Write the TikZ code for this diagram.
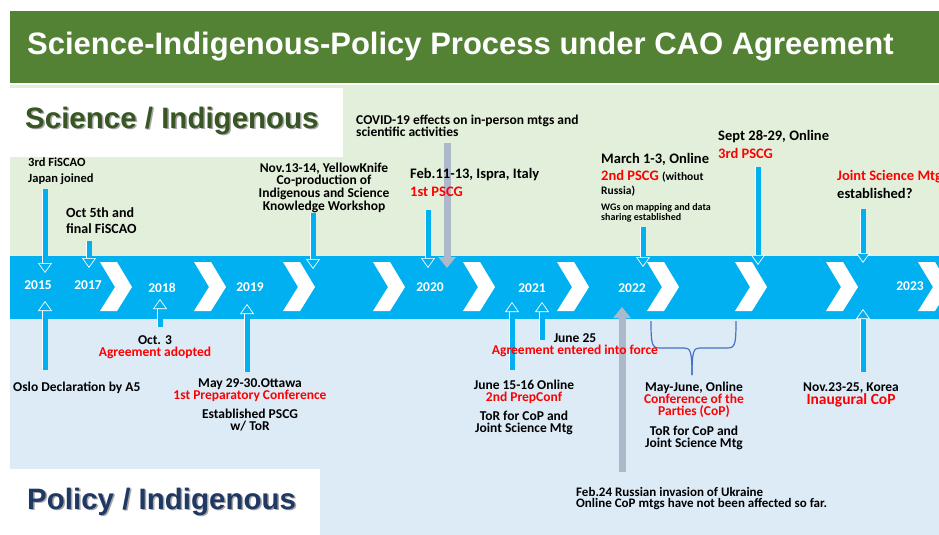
\documentclass[tikz,border=0pt]{standalone}
\usepackage{fontspec}
\setmainfont{Carlito}
\newfontfamily\headfont{Liberation Sans}
\usetikzlibrary{arrows.meta,positioning}
\definecolor{cagreen}{RGB}{84,130,53}
\definecolor{casci}{RGB}{226,239,218}
\definecolor{capol}{RGB}{221,235,247}
\definecolor{caband}{RGB}{0,176,240}
\definecolor{cadkgreen}{RGB}{55,86,35}
\definecolor{cadkblue}{RGB}{31,56,100}
\definecolor{cagrey}{RGB}{173,185,202}
\definecolor{cabrace}{RGB}{68,114,196}
\definecolor{cared}{RGB}{255,0,0}
\newcommand\redtxt[1]{\textcolor{cared}{#1}}

\begin{document}
\begin{tikzpicture}[x=1pt,y=-1pt,
      ev/.style={font=\bfseries\fontsize{13.5}{12}\selectfont,inner sep=0pt,align=center},
      evl/.style={ev,align=left},
      evbig/.style={font=\bfseries\fontsize{14.5}{12}\selectfont},
      yr/.style={font=\bfseries\fontsize{13.5}{14}\selectfont,text=white,inner sep=0pt},
      lane/.style={font=\headfont\bfseries\fontsize{29.5}{30}\selectfont,inner sep=0pt,anchor=base west},
      blk/.style={caband,line width=5pt,preaction={draw=white,line width=6.4pt,-,shorten >=9pt},
        -{Triangle[width=14pt,length=10pt,color=white,fill=caband,line width=0.7pt 0]}},
      gry/.style={cagrey,line width=7pt,-{Triangle[width=17pt,length=11pt]}}]
    \clip (0,0) rectangle (939,535);
    % lanes
    \fill[white] (0,0) rectangle (939,535);
    \fill[cagreen] (10,11) rectangle (939,83);
    \fill[casci] (10,85) rectangle (939,256);
    \fill[caband] (10,256) rectangle (939,319);
    \fill[capol] (10,319) rectangle (939,535);
    \fill[white] (10,88) rectangle (343,157);
    \fill[white] (10,469) rectangle (320,535);
    \node[font=\headfont\bfseries\fontsize{31}{31}\selectfont,text=white,inner sep=0pt,anchor=base west] (title) at (27,55) {Science-Indigenous-Policy Process under CAO Agreement};
    \node[lane,text=black!35] at (26.5,129.5) {Science / Indigenous};
    \node[lane,text=cadkgreen] (scilane) at (25,128) {Science / Indigenous};
    \node[lane,text=black!35] at (28.5,510.5) {Policy / Indigenous};
    \node[lane,text=cadkblue] (pollane) at (27,509) {Policy / Indigenous};
    % timeline band
    \foreach \cx in {100,194,283,373,463,557,647,735,826,918}
      \fill[white] (\cx,262) -- ++(17,0) -- ++(15,25) -- ++(-15,24) -- ++(-17,0) -- ++(15,-24) -- cycle;
    \foreach \yy/\x/\y in {2015/38/285,2017/88/285,2018/162/288,2019/250/287,2020/430/287,2021/532/288,2022/632/288,2023/910/286}
      \node[yr] (y\yy) at (\x,\y) {\yy};
    % CoP brace
    \draw[cabrace,line width=1.2pt] (651,321) .. controls (651,345) and (652,348) .. (660,348) -- (684,348) .. controls (690,348) and (692,350) .. (692,375);
    \draw[cabrace,line width=1.2pt] (736,321) .. controls (736,345) and (735,348) .. (727,348) -- (700,348) .. controls (694,348) and (692,350) .. (692,375);
    % event arrows
    \foreach \n/\x/\ya/\yb in {d1/45/189/273,d2/89/241/268,d3/313/213/269,d4/428/210/268,d5/643/227/267,d6/758/167/265,d7/863/209/263,
        u1/45/370/301,u2/160/327/299,u3/247/372/304,u4/512/370/302,u5/542/340/302,u6/863/372/309}{
      \coordinate (\n s) at (\x,\ya);
      \coordinate (\n e) at (\x,\yb);
      \draw[blk] (\n s) -- (\n e);
    }
    \coordinate (covs) at (447,143); \coordinate (cove) at (447,268);
    \coordinate (ukrs) at (622,472); \coordinate (ukre) at (622,307);
    \draw[gry] (covs) -- (cove); \draw[gry] (ukrs) -- (ukre);
    % science side
    \node[evl,anchor=north west,font=\bfseries\fontsize{12.5}{12}\selectfont] (fiscao3) at (28,158) {3rd FiSCAO\\[4pt]Japan joined};
    \node[evl,anchor=north west,font=\bfseries\fontsize{14}{12}\selectfont] (fiscao5) at (66,207) {Oct 5th and\\[4pt]final FiSCAO};
    \node[ev,anchor=north,font=\bfseries\fontsize{13.5}{11}\selectfont] (yknife) at (324,163) {Nov.13-14, YellowKnife\\Co-production of\\Indigenous and Science\\Knowledge Workshop};
    \node[evl,anchor=north west] (covid) at (356,115) {COVID-19 effects on in-person mtgs and\\scientific activities};
    \node[evl,evbig,anchor=north west] (ispra) at (410,168) {Feb.11-13, Ispra, Italy\\[6pt]\redtxt{1st PSCG}};
    \node[evl,evbig,anchor=north west] (march) at (601,153) {March 1-3, Online\\[4pt]\redtxt{2nd PSCG} {\fontsize{11.5}{12}\selectfont(without}\\[2pt]{\fontsize{11.5}{12}\selectfont Russia)}};
    \node[evl,anchor=north west,font=\bfseries\fontsize{10}{10}\selectfont] (wgs) at (601,203) {WGs on mapping and data\\sharing established};
    \node[evl,evbig,anchor=north west] (sept) at (718,130) {Sept 28-29, Online\\[5pt]\redtxt{3rd PSCG}};
    \node[evl,evbig,anchor=north west] (jsm) at (837,170) {\redtxt{Joint Science Mtg}\\[4pt]established?};
    % policy side
    \node[ev,anchor=north] (oct3) at (155,335) {Oct. 3\\\redtxt{Agreement adopted}};
    \node[evl,anchor=north west] (oslo) at (13,382) {Oslo Declaration by A5};
    \node[ev,anchor=north] (ottawa) at (250,378) {May 29-30.Ottawa\\\redtxt{1st Preparatory Conference}\\[7pt]Established PSCG\\w/ ToR};
    \node[ev,anchor=north] (june25) at (575,333) {June 25\\\redtxt{Agreement entered into force}};
    \node[ev,anchor=north] (prep2) at (524,380) {June 15-16 Online\\\redtxt{2nd PrepConf}\\[7pt]ToR for CoP and\\Joint Science Mtg};
    \node[ev,anchor=north] (cop) at (694,382) {May-June, Online\\\redtxt{Conference of the}\\\redtxt{Parties (CoP)}\\[8pt]ToR for CoP and\\Joint Science Mtg};
    \node[ev,anchor=north] (korea) at (851,382) {Nov.23-25, Korea\\{\fontsize{15.5}{14}\selectfont\redtxt{Inaugural CoP}}};
    \node[evl,anchor=north west,font=\bfseries\fontsize{13}{11.5}\selectfont] (ukraine) at (576,487) {Feb.24 Russian invasion of Ukraine\\Online CoP mtgs have not been affected so far.};
  \end{tikzpicture}
\end{document}
